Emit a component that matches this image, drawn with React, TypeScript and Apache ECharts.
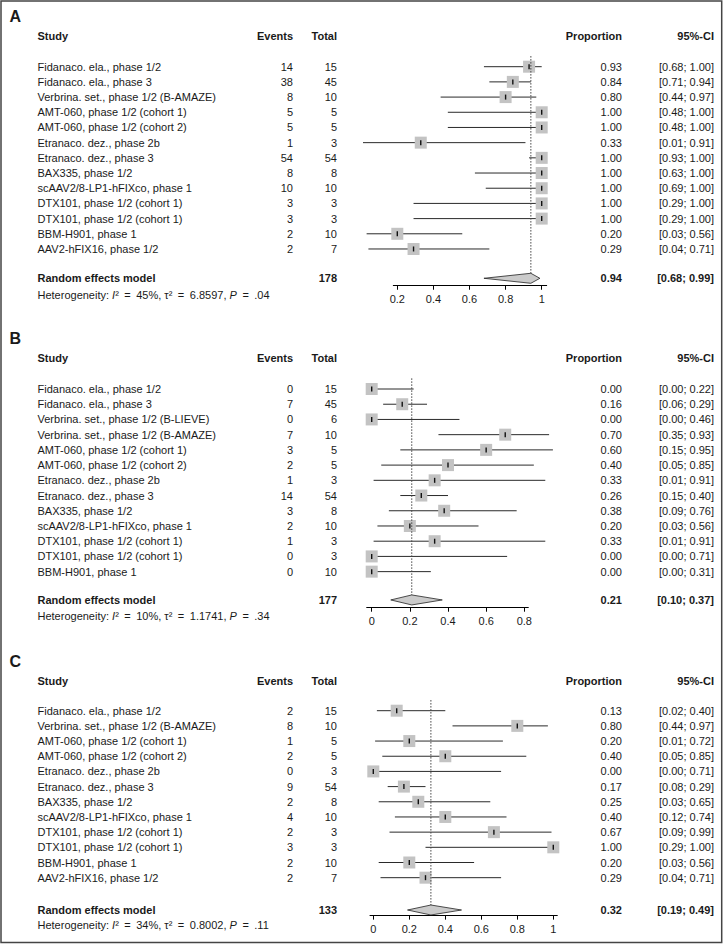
import React, { useEffect, useRef } from "react";
import * as echarts from "echarts";

// ---------------- DATA ----------------
const studiesA = [
  "Fidanaco. ela., phase 1/2",
  "Fidanaco. ela., phase 3",
  "Verbrina. set., phase 1/2 (B-AMAZE)",
  "AMT-060, phase 1/2 (cohort 1)",
  "AMT-060, phase 1/2 (cohort 2)",
  "Etranaco. dez., phase 2b",
  "Etranaco. dez., phase 3",
  "BAX335, phase 1/2",
  "scAAV2/8-LP1-hFIXco, phase 1",
  "DTX101, phase 1/2 (cohort 1)",
  "DTX101, phase 1/2 (cohort 1)",
  "BBM-H901, phase 1",
  "AAV2-hFIX16, phase 1/2",
];
const eventsA = [14, 38, 8, 5, 5, 1, 54, 8, 10, 3, 3, 2, 2];
const totalsA = [15, 45, 10, 5, 5, 3, 54, 8, 10, 3, 3, 10, 7];
const propA = [0.93, 0.84, 0.8, 1.0, 1.0, 0.33, 1.0, 1.0, 1.0, 1.0, 1.0, 0.2, 0.29];
const lowerA = [0.68, 0.71, 0.44, 0.48, 0.48, 0.01, 0.93, 0.63, 0.69, 0.29, 0.29, 0.03, 0.04];
const upperA = [1.0, 0.94, 0.97, 1.0, 1.0, 0.91, 1.0, 1.0, 1.0, 1.0, 1.0, 0.56, 0.71];
const pooledA = [178, 0.94, 0.68, 0.99]; // total, estimate, lower, upper
const hetA = ["45%", "6.8597", ".04"];
const ticksA = [0.2, 0.4, 0.6, 0.8, 1];

const studiesB = [
  "Fidanaco. ela., phase 1/2",
  "Fidanaco. ela., phase 3",
  "Verbrina. set., phase 1/2 (B-LIEVE)",
  "Verbrina. set., phase 1/2 (B-AMAZE)",
  "AMT-060, phase 1/2 (cohort 1)",
  "AMT-060, phase 1/2 (cohort 2)",
  "Etranaco. dez., phase 2b",
  "Etranaco. dez., phase 3",
  "BAX335, phase 1/2",
  "scAAV2/8-LP1-hFIXco, phase 1",
  "DTX101, phase 1/2 (cohort 1)",
  "DTX101, phase 1/2 (cohort 1)",
  "BBM-H901, phase 1",
];
const eventsB = [0, 7, 0, 7, 3, 2, 1, 14, 3, 2, 1, 0, 0];
const totalsB = [15, 45, 6, 10, 5, 5, 3, 54, 8, 10, 3, 3, 10];
const propB = [0.0, 0.16, 0.0, 0.7, 0.6, 0.4, 0.33, 0.26, 0.38, 0.2, 0.33, 0.0, 0.0];
const lowerB = [0.0, 0.06, 0.0, 0.35, 0.15, 0.05, 0.01, 0.15, 0.09, 0.03, 0.01, 0.0, 0.0];
const upperB = [0.22, 0.29, 0.46, 0.93, 0.95, 0.85, 0.91, 0.4, 0.76, 0.56, 0.91, 0.71, 0.31];
const pooledB = [177, 0.21, 0.1, 0.37];
const hetB = ["10%", "1.1741", ".34"];
const ticksB = [0, 0.2, 0.4, 0.6, 0.8];

const studiesC = [
  "Fidanaco. ela., phase 1/2",
  "Verbrina. set., phase 1/2 (B-AMAZE)",
  "AMT-060, phase 1/2 (cohort 1)",
  "AMT-060, phase 1/2 (cohort 2)",
  "Etranaco. dez., phase 2b",
  "Etranaco. dez., phase 3",
  "BAX335, phase 1/2",
  "scAAV2/8-LP1-hFIXco, phase 1",
  "DTX101, phase 1/2 (cohort 1)",
  "DTX101, phase 1/2 (cohort 1)",
  "BBM-H901, phase 1",
  "AAV2-hFIX16, phase 1/2",
];
const eventsC = [2, 8, 1, 2, 0, 9, 2, 4, 2, 3, 2, 2];
const totalsC = [15, 10, 5, 5, 3, 54, 8, 10, 3, 3, 10, 7];
const propC = [0.13, 0.8, 0.2, 0.4, 0.0, 0.17, 0.25, 0.4, 0.67, 1.0, 0.2, 0.29];
const lowerC = [0.02, 0.44, 0.01, 0.05, 0.0, 0.08, 0.03, 0.12, 0.09, 0.29, 0.03, 0.04];
const upperC = [0.4, 0.97, 0.72, 0.85, 0.71, 0.29, 0.65, 0.74, 0.99, 1.0, 0.56, 0.71];
const pooledC = [133, 0.32, 0.19, 0.49];
const hetC = ["34%", "0.8002", ".11"];
const ticksC = [0, 0.2, 0.4, 0.6, 0.8, 1];

// ---------------- LAYOUT ----------------
const FONT = "Liberation Sans, Arial, Helvetica, sans-serif";
const TXT = "#1a1a1a";
const COL_STUDY = 37.5;
const COL_EVENTS = 293;
const COL_TOTAL = 337;
const COL_PROP = 622;
const COL_CI = 714;
const COL_LETTER = 9.5;
const EQ = "\u2002=\u2002";

const layouts = [
  { letter: "A", baseY: 66.7, dy: 15.19, x0: 361.2, sx: 180.5, axisFrom: 393.3, axisTo: 546.7, letterRow: -3.3, headerRow: -2.04, reRow: 13.93, hetRow: 15.03, axisRow: 14.42 },
  { letter: "B", baseY: 389, dy: 15.22, x0: 371.7, sx: 190.75, axisFrom: 366.7, axisTo: 528.3, letterRow: -3.35, headerRow: -2.04, reRow: 13.86, hetRow: 14.91, axisRow: 14.37 },
  { letter: "C", baseY: 710.7, dy: 15.18, x0: 373.3, sx: 180, axisFrom: 370, axisTo: 557.3, letterRow: -3.23, headerRow: -1.98, reRow: 13.13, hetRow: 14.12, axisRow: 13.5 },
];

const panelsData = [
  { studies: studiesA, events: eventsA, totals: totalsA, prop: propA, lower: lowerA, upper: upperA, pooled: pooledA, het: hetA, ticks: ticksA },
  { studies: studiesB, events: eventsB, totals: totalsB, prop: propB, lower: lowerB, upper: upperB, pooled: pooledB, het: hetB, ticks: ticksB },
  { studies: studiesC, events: eventsC, totals: totalsC, prop: propC, lower: lowerC, upper: upperC, pooled: pooledC, het: hetC, ticks: ticksC },
];

const Y_MIN = -4;
const SQ = 6; // half size of squares
const DIA = 5; // half height of diamond

function txt(text: string, x: number, y: number, align: string, bold = false, size = 11) {
  return {
    type: "text",
    x,
    y,
    style: {
      text,
      fill: TXT,
      fontSize: size,
      fontFamily: FONT,
      fontWeight: bold ? "bold" : "normal",
      align,
      verticalAlign: "middle",
    },
  };
}

function fmt(v: number) {
  return v.toFixed(2);
}

export default function App() {
  const ref = useRef<HTMLDivElement>(null);

  useEffect(() => {
    document.body.style.margin = "0";
    const chart = echarts.init(ref.current!, null, { renderer: "svg" });

    const grids: any[] = [];
    const xAxes: any[] = [];
    const yAxes: any[] = [];
    const series: any[] = [];

    layouts.forEach((L, k) => {
      const P = panelsData[k];
      const top = L.baseY + Y_MIN * L.dy;
      grids.push({
        left: L.axisFrom,
        top,
        width: L.axisTo - L.axisFrom,
        height: (L.axisRow - Y_MIN) * L.dy,
        containLabel: false,
        outerBoundsMode: "none",
      });
      xAxes.push({
        gridIndex: k,
        type: "value",
        min: (L.axisFrom - L.x0) / L.sx,
        max: (L.axisTo - L.x0) / L.sx,
        position: "bottom",
        axisLine: { show: true, onZero: false, lineStyle: { color: "#000", width: 1 } },
        axisTick: { show: true, length: 4, customValues: P.ticks, lineStyle: { color: "#000", width: 1 } },
        axisLabel: {
          show: true,
          customValues: P.ticks,
          margin: 8,
          fontSize: 11,
          fontFamily: FONT,
          color: TXT,
          formatter: (v: number) => String(v),
        },
        splitLine: { show: false },
      });
      yAxes.push({
        gridIndex: k,
        type: "value",
        min: Y_MIN,
        max: L.axisRow,
        inverse: true,
        show: false,
      });

      // header + letter
      series.push({
        type: "custom",
        xAxisIndex: k,
        yAxisIndex: k,
        clip: false,
        silent: true,
        data: [[0, L.headerRow, L.letterRow]],
        renderItem: (params: any, api: any) => {
          const yh = api.coord([0, api.value(1)])[1];
          const yl = api.coord([0, api.value(2)])[1];
          return {
            type: "group",
            children: [
              txt(L.letter, COL_LETTER, yl, "left", true, 16),
              txt("Study", COL_STUDY, yh, "left", true),
              txt("Events", COL_EVENTS, yh, "right", true),
              txt("Total", COL_TOTAL, yh, "right", true),
              txt("Proportion", COL_PROP, yh, "right", true),
              txt("95%-CI", COL_CI, yh, "right", true),
            ],
          };
        },
      });

      // study rows
      series.push({
        type: "custom",
        xAxisIndex: k,
        yAxisIndex: k,
        clip: false,
        silent: true,
        encode: { x: 0, y: 1 },
        data: P.prop.map((p, i) => [p, i, P.lower[i], P.upper[i]]),
        renderItem: (params: any, api: any) => {
          const i = params.dataIndex;
          const est = api.value(0);
          const row = api.value(1);
          const pe = api.coord([est, row]);
          const pl = api.coord([api.value(2), row]);
          const pu = api.coord([api.value(3), row]);
          const y = pe[1];
          return {
            type: "group",
            children: [
              {
                type: "line",
                shape: { x1: pl[0], y1: y, x2: pu[0], y2: y },
                style: { stroke: "#2a2a2a", lineWidth: 1 },
              },
              {
                type: "rect",
                shape: { x: pe[0] - SQ, y: y - SQ, width: SQ * 2, height: SQ * 2 },
                style: { fill: "#c3c3c3" },
              },
              {
                type: "line",
                shape: { x1: pe[0], y1: y - 2.5, x2: pe[0], y2: y + 2.5 },
                style: { stroke: "#111", lineWidth: 1.4 },
              },
              txt(P.studies[i], COL_STUDY, y, "left"),
              txt(String(P.events[i]), COL_EVENTS, y, "right"),
              txt(String(P.totals[i]), COL_TOTAL, y, "right"),
              txt(fmt(P.prop[i]), COL_PROP, y, "right"),
              txt("[" + fmt(P.lower[i]) + "; " + fmt(P.upper[i]) + "]", COL_CI, y, "right"),
            ],
          };
        },
      });

      // pooled row
      series.push({
        type: "custom",
        xAxisIndex: k,
        yAxisIndex: k,
        clip: false,
        silent: true,
        encode: { x: 0, y: 1 },
        data: [[P.pooled[1], L.reRow, P.pooled[2], P.pooled[3], L.hetRow, -0.7]],
        renderItem: (params: any, api: any) => {
          const est = api.value(0);
          const row = api.value(1);
          const pe = api.coord([est, row]);
          const pl = api.coord([api.value(2), row]);
          const pu = api.coord([api.value(3), row]);
          const yH = api.coord([0, api.value(4)])[1];
          const yTop = api.coord([est, api.value(5)])[1];
          const y = pe[1];
          const h = P.het;
          return {
            type: "group",
            children: [
              {
                type: "line",
                shape: { x1: pe[0], y1: yTop, x2: pe[0], y2: y - DIA },
                style: { stroke: "#444", lineWidth: 1, lineDash: [1.5, 1.5] },
              },
              {
                type: "polygon",
                shape: {
                  points: [
                    [pl[0], y],
                    [pe[0], y - DIA],
                    [pu[0], y],
                    [pe[0], y + DIA],
                  ],
                },
                style: { fill: "#cbcbcb", stroke: "#222", lineWidth: 0.8 },
              },
              txt("Random effects model", COL_STUDY, y, "left", true),
              txt(String(P.pooled[0]), COL_TOTAL, y, "right", true),
              txt(fmt(P.pooled[1]), COL_PROP, y, "right", true),
              txt("[" + fmt(P.pooled[2]) + "; " + fmt(P.pooled[3]) + "]", COL_CI, y, "right", true),
              {
                type: "text",
                x: COL_STUDY,
                y: yH,
                style: {
                  text:
                    "Heterogeneity: {i|I}²" + EQ + h[0] + ", τ²" + EQ + h[1] + ", {i|P}" + EQ + h[2],
                  fill: TXT,
                  fontSize: 11,
                  fontFamily: FONT,
                  align: "left",
                  verticalAlign: "middle",
                  rich: {
                    i: { fontStyle: "italic", fontSize: 11, fontFamily: FONT, fill: TXT },
                  },
                },
              },
            ],
          };
        },
      });
    });

    chart.setOption({
      animation: false,
      backgroundColor: "#fff",
      grid: grids,
      xAxis: xAxes,
      yAxis: yAxes,
      series,
      graphic: [
        {
          type: "rect",
          silent: true,
          z: 100,
          shape: { x: 1, y: 1, width: 720.7, height: 941.5 },
          style: { fill: "none", stroke: "#444", lineWidth: 1.5 },
        },
      ],
    });

    return () => chart.dispose();
  }, []);

  return (
    <div
      ref={ref}
      style={{ position: "absolute", left: 0, top: 0, width: 724, height: 945 }}
    />
  );
}
